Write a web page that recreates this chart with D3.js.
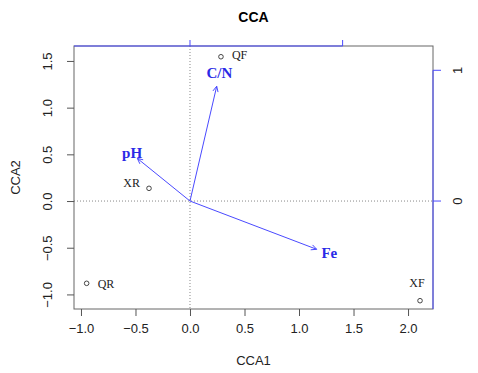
<!DOCTYPE html>
<html lang="en">
<head>
<meta charset="UTF-8">
<title>CCA</title>
<script src="https://d3js.org/d3.v7.min.js"></script>
<style>
  body { margin: 0; background: #fff; }
</style>
</head>
<body>
<div id="plot"></div>
<script>
// site scores (CCA1, CCA2)
const sites = ["QF", "XR", "QR", "XF"];
const siteX = [0.284, -0.376, -0.948, 2.11];
const siteY = [1.545, 0.136, -0.881, -1.067];
// where each site label sits relative to its point
const siteLabelSide = ["right", "left", "right", "topleft"];

// environmental biplot arrows (in the secondary axis units)
const envVars = ["C/N", "pH", "Fe"];
const envX = [0.175, -0.345, 0.830];
const envY = [0.878, 0.326, -0.369];

const xTicks = [-1.0, -0.5, 0.0, 0.5, 1.0, 1.5, 2.0];
const yTicks = [-1.0, -0.5, 0.0, 0.5, 1.0, 1.5];
const arrowTicks = [0, 1];
const arrowMult = 1.4;

const width = 478, height = 373;
const margin = { top: 46, right: 45, bottom: 64, left: 74 };
const blue = "#4a4aff";

const svg = d3.select("#plot").append("svg")
  .attr("width", width).attr("height", height)
  .style("font-family", "'Liberation Sans', Arial, sans-serif");

const x = d3.scaleLinear().domain([-1.064, 2.229])
  .range([margin.left, width - margin.right]);
const y = d3.scaleLinear().domain([-1.156, 1.66])
  .range([height - margin.bottom, margin.top]);
// arrow scales share the same origin, stretched by arrowMult
const xa = d3.scaleLinear().domain(x.domain().map(d => d / arrowMult)).range(x.range());
const ya = d3.scaleLinear().domain(y.domain().map(d => d / arrowMult)).range(y.range());

const x0 = margin.left, x1 = width - margin.right;
const y0 = margin.top, y1 = height - margin.bottom;
const fmt = d => d3.format(".1f")(d).replace("-", "\u2212");

// dotted zero lines
svg.append("line").attr("x1", x(0)).attr("x2", x(0)).attr("y1", y0).attr("y2", y1)
  .attr("stroke", "#888").attr("stroke-dasharray", "1,2");
svg.append("line").attr("x1", x0).attr("x2", x1).attr("y1", y(0)).attr("y2", y(0))
  .attr("stroke", "#888").attr("stroke-dasharray", "1,2");

// frame
svg.append("rect").attr("x", x0).attr("y", y0)
  .attr("width", x1 - x0).attr("height", y1 - y0)
  .attr("fill", "none").attr("stroke", "#666");

// bottom axis
const gx = svg.append("g").attr("transform", `translate(0,${y1})`)
  .call(d3.axisBottom(x).tickValues(xTicks).tickFormat(fmt).tickSize(7).tickPadding(8));
gx.select(".domain").remove();
gx.selectAll("line").attr("stroke", "#555");
gx.selectAll("text").style("font-size", "13px").attr("fill", "#222");

// left axis, labels rotated
const gy = svg.append("g").attr("transform", `translate(${x0},0)`)
  .call(d3.axisLeft(y).tickValues(yTicks).tickFormat(fmt).tickSize(7));
gy.select(".domain").remove();
gy.selectAll("line").attr("stroke", "#555");
gy.selectAll("text").style("font-size", "13px").attr("fill", "#222")
  .attr("text-anchor", "middle").attr("x", 0).attr("dy", null)
  .attr("transform", "translate(-25,0) rotate(-90)")
  .attr("dominant-baseline", "middle");

// top axis (arrow scale)
svg.append("line").attr("x1", x0).attr("x2", xa(d3.max(arrowTicks)))
  .attr("y1", y0).attr("y2", y0).attr("stroke", blue);
svg.selectAll(".ttick").data(arrowTicks).join("line")
  .attr("x1", d => xa(d)).attr("x2", d => xa(d))
  .attr("y1", y0).attr("y2", y0 - 6).attr("stroke", blue);

// right axis (arrow scale)
svg.append("line").attr("x1", x1).attr("x2", x1)
  .attr("y1", y1).attr("y2", ya(d3.max(arrowTicks))).attr("stroke", blue);
svg.selectAll(".rtick").data(arrowTicks).join("line")
  .attr("x1", x1).attr("x2", x1 + 8)
  .attr("y1", d => ya(d)).attr("y2", d => ya(d)).attr("stroke", blue);
svg.selectAll(".rlab").data(arrowTicks).join("text")
  .attr("transform", d => `translate(${x1 + 26},${ya(d)}) rotate(-90)`)
  .attr("text-anchor", "middle").attr("dominant-baseline", "middle")
  .style("font-size", "13px").attr("fill", "#222")
  .text(d => d);

// titles
svg.append("text").attr("x", (x0 + x1) / 2).attr("y", 22)
  .attr("text-anchor", "middle").style("font-size", "14px").style("font-weight", "bold")
  .text("CCA");
svg.append("text").attr("x", (x0 + x1) / 2).attr("y", 365)
  .attr("text-anchor", "middle").style("font-size", "13px").attr("fill", "#222")
  .text("CCA1");
svg.append("text").attr("transform", `translate(17,${(y0 + y1) / 2}) rotate(-90)`)
  .attr("text-anchor", "middle").attr("dominant-baseline", "middle")
  .style("font-size", "13px").attr("fill", "#222")
  .text("CCA2");

// site points
const siteData = sites.map((s, i) => ({ name: s, x: siteX[i], y: siteY[i], side: siteLabelSide[i] }));
svg.selectAll(".site").data(siteData).join("circle")
  .attr("cx", d => x(d.x)).attr("cy", d => y(d.y)).attr("r", 2.3)
  .attr("fill", "none").attr("stroke", "#333").attr("stroke-width", 0.9);

const sideOffset = {
  right:   { dx: 11, dy: 0, anchor: "start" },
  left:    { dx: -9, dy: -4, anchor: "end" },
  topleft: { dx: -3, dy: -16, anchor: "middle" }
};
svg.selectAll(".slab").data(siteData).join("text")
  .attr("x", d => x(d.x) + sideOffset[d.side].dx)
  .attr("y", d => y(d.y) + sideOffset[d.side].dy + (d.side === "right" && d.y < 0 ? 2 : 0))
  .attr("text-anchor", d => sideOffset[d.side].anchor)
  .attr("dominant-baseline", "middle")
  .style("font-family", "'Liberation Serif', 'Times New Roman', serif")
  .style("font-size", "12px").attr("fill", "#222")
  .text(d => d.name);

// biplot arrows
const envData = envVars.map((v, i) => ({ name: v, x: envX[i], y: envY[i] }));
const ox = xa(0), oy = ya(0);
const head = 6, headAng = Math.PI / 7;
envData.forEach(d => {
  const tx = xa(d.x), ty = ya(d.y);
  const ang = Math.atan2(ty - oy, tx - ox);
  svg.append("line").attr("x1", ox).attr("y1", oy).attr("x2", tx).attr("y2", ty)
    .attr("stroke", blue).attr("stroke-width", 1);
  const p = d3.path();
  p.moveTo(tx - head * Math.cos(ang - headAng), ty - head * Math.sin(ang - headAng));
  p.lineTo(tx, ty);
  p.lineTo(tx - head * Math.cos(ang + headAng), ty - head * Math.sin(ang + headAng));
  svg.append("path").attr("d", p.toString()).attr("fill", "none")
    .attr("stroke", blue).attr("stroke-width", 1);
  svg.append("text").attr("x", xa(d.x * 1.1)).attr("y", ya(d.y * 1.1))
    .attr("text-anchor", "middle").attr("dominant-baseline", "middle")
    .style("font-family", "'Liberation Serif', 'Times New Roman', serif")
    .style("font-size", "15px").style("font-weight", "bold").attr("fill", "#2a2ae6")
    .text(d.name);
});
</script>
</body>
</html>
